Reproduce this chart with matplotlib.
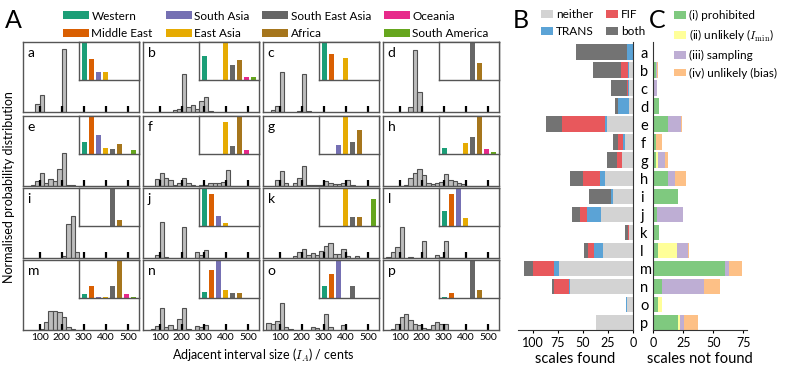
import numpy as np
import matplotlib
matplotlib.use('Agg')
import matplotlib.pyplot as plt
from matplotlib.patches import Patch

plt.rcParams['font.family'] = ['Lato', 'DejaVu Sans']
plt.rcParams['mathtext.fontset'] = 'cm'

# --- Datos del panel A: histogramas de intervalos (bins de 20 cents, de 40 a 460) ---
centros = np.arange(50, 460, 20)
hist_a = [0, 0, 0.11, 0.25, 0, 0, 0, 0, 0.90, 0, 0, 0, 0, 0, 0, 0, 0, 0, 0, 0, 0]
hist_b = [0, 0, 0, 0, 0, 0, 0.025, 0.045, 0.55, 0.065, 0.10, 0.045, 0.16, 0.21, 0.015, 0, 0, 0, 0, 0, 0]
hist_c = [0, 0.025, 0.08, 0.57, 0, 0, 0, 0.01, 0.54, 0.015, 0, 0, 0, 0, 0, 0, 0, 0, 0, 0, 0]
hist_d = [0, 0, 0, 0, 0, 0.07, 0.89, 0.29, 0, 0, 0, 0, 0, 0, 0, 0, 0, 0, 0, 0, 0]
hist_e = [0, 0.01, 0.07, 0.19, 0.05, 0.10, 0.07, 0.25, 0.47, 0.02, 0.015, 0, 0, 0, 0, 0, 0, 0, 0, 0, 0]
hist_f = [0, 0, 0.10, 0.19, 0.11, 0.08, 0.02, 0.05, 0.12, 0.05, 0.01, 0, 0.02, 0.02, 0.04, 0.05, 0.05, 0.06, 0.23, 0, 0]
hist_g = [0, 0, 0.09, 0.21, 0.05, 0, 0.05, 0.11, 0.28, 0.015, 0.015, 0.015, 0.015, 0.07, 0.04, 0.03, 0.03, 0.05, 0.09, 0.02, 0]
hist_h = [0, 0, 0, 0, 0.02, 0.11, 0.18, 0.24, 0.16, 0.04, 0.025, 0.04, 0.06, 0.17, 0.08, 0.07, 0.04, 0.025, 0, 0, 0]
hist_i = [0, 0, 0, 0, 0, 0, 0, 0, 0.03, 0.49, 0.60, 0.09, 0, 0, 0, 0, 0, 0, 0, 0, 0]
hist_j = [0, 0, 0.05, 0.52, 0.01, 0, 0, 0, 0.44, 0, 0, 0.09, 0.05, 0.11, 0, 0, 0, 0, 0, 0, 0]
hist_k = [0, 0, 0, 0, 0, 0, 0.03, 0.09, 0.13, 0.05, 0.065, 0.05, 0.10, 0.17, 0.21, 0.06, 0.06, 0.13, 0.035, 0, 0.03]
hist_l = [0.02, 0.08, 0.16, 0.45, 0, 0.01, 0, 0, 0.24, 0, 0, 0.04, 0.02, 0.24, 0, 0, 0, 0, 0, 0, 0]
hist_m = [0, 0, 0, 0.02, 0.12, 0.27, 0.275, 0.26, 0.19, 0.05, 0.02, 0, 0, 0, 0, 0, 0, 0, 0, 0, 0]
hist_n = [0, 0.02, 0.06, 0.31, 0.04, 0.07, 0.01, 0.16, 0.31, 0.01, 0, 0.06, 0.04, 0.07, 0, 0, 0, 0, 0, 0, 0]
hist_o = [0.10, 0.08, 0.13, 0.39, 0.05, 0.02, 0, 0, 0, 0, 0.04, 0.03, 0, 0.23, 0.05, 0, 0, 0.07, 0, 0, 0]
hist_p = [0, 0.02, 0.09, 0.19, 0.23, 0.15, 0.09, 0.07, 0.03, 0.02, 0.07, 0.11, 0.09, 0.08, 0, 0, 0, 0, 0, 0, 0]

# --- Recuadros: proporción relativa de escalas por región ---
regiones = ['Western', 'Middle East', 'South Asia', 'East Asia',
            'South East Asia', 'Africa', 'Oceania', 'South America']
colores_region = ['#1b9e77', '#d95f02', '#7570b3', '#e6ab02',
                  '#666666', '#a6761d', '#e7298a', '#66a61e']
reg_a = [1.0, 0.58, 0.22, 0.22, 0, 0, 0, 0]
reg_b = [0.65, 0, 0, 1.0, 0.40, 0.53, 0.07, 0.07]
reg_c = [1.0, 0.70, 0, 0.59, 0, 0, 0, 0]
reg_d = [0, 0, 0, 0, 1.0, 0.46, 0, 0]
reg_e = [0.31, 1.0, 0.51, 0.17, 0.14, 0.28, 0, 0.10]
reg_f = [0, 0, 0, 0.86, 0.22, 1.0, 0.10, 0]
reg_g = [0, 0, 0.25, 1.0, 0.32, 0.64, 0, 0]
reg_h = [0.16, 0, 0, 0.29, 0.46, 1.0, 0.13, 0.06]
reg_i = [0, 0, 0, 0, 1.0, 0.15, 0, 0]
reg_j = [1.0, 0.86, 0.28, 0.07, 0, 0, 0, 0]
reg_k = [0, 0, 0, 1.0, 0.25, 0.25, 0, 0.73]
reg_l = [0.39, 0.87, 1.0, 0.20, 0, 0, 0, 0]
reg_m = [0.11, 0.31, 0.02, 0.02, 0.32, 1.0, 0.10, 0.02]
reg_n = [0.16, 0.75, 1.0, 0.20, 0.14, 0.14, 0, 0]
reg_o = [0.32, 0.64, 1.0, 0, 0.32, 0, 0, 0]
reg_p = [0.03, 0.14, 0, 0, 1.0, 0.22, 0, 0]

letras = list('abcdefghijklmnop')
histogramas = [hist_a, hist_b, hist_c, hist_d, hist_e, hist_f, hist_g, hist_h,
               hist_i, hist_j, hist_k, hist_l, hist_m, hist_n, hist_o, hist_p]
recuadros = [reg_a, reg_b, reg_c, reg_d, reg_e, reg_f, reg_g, reg_h,
             reg_i, reg_j, reg_k, reg_l, reg_m, reg_n, reg_o, reg_p]

# --- Panel B: escalas encontradas ---
neither = [0, 4, 4, 4, 26, 8, 11, 28, 20, 32, 4, 30, 74, 63, 6, 37]
trans = [6, 1, 1, 11, 2, 2, 0, 5, 2, 14, 0, 9, 5, 1, 1, 0]
fif = [0, 7, 1, 0, 43, 5, 5, 17, 0, 7, 1, 6, 21, 15, 0, 0]
both = [51, 28, 16, 3, 16, 5, 10, 13, 22, 8, 3, 4, 9, 2, 0, 0]

# --- Panel C: escalas no encontradas ---
prohibited = [0, 2, 0, 5, 12, 2, 2, 12, 21, 3, 5, 4, 60, 7, 4, 21]
unlikely_min = [0, 0, 1, 0, 0, 0, 2, 0, 0, 0, 0, 16, 0, 0, 3, 1]
sampling = [0, 1, 2, 0, 11, 0, 6, 6, 0, 22, 0, 9, 3, 35, 0, 4]
unlikely_bias = [0, 1, 0, 0, 1, 5, 2, 9, 0, 0, 0, 1, 11, 14, 0, 11]

W, H = 789, 368


def caja(x0, y0, x1, y1):
    return [x0 / W, 1 - y1 / H, (x1 - x0) / W, (y1 - y0) / H]


fig = plt.figure(figsize=(W / 100, H / 100), dpi=100)

col_x = [23, 143, 263, 383]
fila_y = [42, 116, 188, 260]
gris_marco = '#555555'

for k, letra in enumerate(letras):
    fila, col = divmod(k, 4)
    ax = fig.add_axes(caja(col_x[col], fila_y[fila], col_x[col] + 116, fila_y[fila] + 70))
    valores = np.array(histogramas[k])
    mask = valores > 0
    ax.bar(centros[mask], valores[mask], width=20, facecolor='#bdbdbd',
           edgecolor='#505050', linewidth=0.8)
    ax.set_xlim(25, 550)
    ax.set_ylim(0, 1)
    ax.set_xticks([100, 200, 300, 400, 500])
    ax.set_yticks([])
    ax.tick_params(axis='x', direction='in', length=4, width=1.6, color='black',
                   labelsize=7.5, pad=2.5, labelbottom=(fila == 3))
    for s in ax.spines.values():
        s.set_color(gris_marco)
        s.set_linewidth(1.0)
    ax.text(0.04, 0.93, letra, transform=ax.transAxes, ha='left', va='top', fontsize=10)

    ins = ax.inset_axes([0.483, 0.46, 0.517, 0.54])
    ins.bar(np.arange(8), recuadros[k], width=0.82, color=colores_region, linewidth=0)
    ins.set_xlim(-0.8, 7.8)
    ins.set_ylim(0, 1.03)
    ins.set_xticks([])
    ins.set_yticks([])
    for s in ins.spines.values():
        s.set_color(gris_marco)
        s.set_linewidth(1.0)

# Leyenda de regiones
manejadores = [Patch(facecolor=c, edgecolor='none') for c in colores_region]
fig.legend(manejadores, regiones, ncol=4, loc='upper left',
           bbox_to_anchor=(63 / W, 1 - 10.5 / H), frameon=False, fontsize=8.5,
           handlelength=2.2, handleheight=0.65, handletextpad=0.2,
           columnspacing=1.1, labelspacing=0.55, borderpad=0, borderaxespad=0)

fig.text(9 / W, 1 - 187 / H, 'Normalised probability distribution', rotation=90,
         ha='center', va='center', fontsize=9)
fig.text(263 / W, 1 - 355 / H, r'Adjacent interval size ($I_A$) / cents',
         ha='center', va='center', fontsize=9)

# Panel B
filas = np.arange(16)
ax_b = fig.add_axes(caja(517.5, 42, 633.3, 330))
izq = np.zeros(16)
colores_b = ['#d3d3d3', '#5ba3d6', '#e8585c', '#737373']
etiquetas_b = ['neither', 'TRANS', 'FIF', 'both']
for serie, color in zip([neither, trans, fif, both], colores_b):
    ax_b.barh(filas, serie, left=izq, height=0.87, color=color, linewidth=0)
    izq = izq + np.array(serie)
ax_b.set_xlim(115, 0)
ax_b.set_ylim(15.42, -0.57)
ax_b.set_xticks([100, 75, 50, 25, 0])
ax_b.yaxis.tick_right()
ax_b.set_yticks(filas)
ax_b.set_yticklabels(letras)
ax_b.tick_params(axis='y', length=0, pad=5, labelsize=10.5)
ax_b.tick_params(axis='x', length=2, labelsize=9, pad=3)
ax_b.spines['top'].set_visible(False)
ax_b.spines['left'].set_visible(False)
for s in ['right', 'bottom']:
    ax_b.spines[s].set_color('#333333')
ax_b.set_xlabel('scales found', fontsize=10.5, labelpad=2)

manejadores_b = [Patch(facecolor=c, edgecolor='none') for c in colores_b]
fig.legend(manejadores_b, etiquetas_b, ncol=2, loc='upper left',
           bbox_to_anchor=(541 / W, 1 - 9 / H), frameon=False, fontsize=8.5,
           handlelength=1.0, handleheight=0.65, handletextpad=0.3,
           columnspacing=1.0, labelspacing=0.55, borderpad=0, borderaxespad=0)

# Panel C
ax_c = fig.add_axes(caja(653.3, 42, 746.5, 330))
izq = np.zeros(16)
colores_c = ['#7fc97f', '#ffff99', '#beaed4', '#fdc086']
etiquetas_c = ['(i) prohibited', r'(ii) unlikely ($I_{\min}$)', '(iii) sampling',
               '(iv) unlikely (bias)']
for serie, color in zip([prohibited, unlikely_min, sampling, unlikely_bias], colores_c):
    ax_c.barh(filas, serie, left=izq, height=0.87, color=color, linewidth=0)
    izq = izq + np.array(serie)
ax_c.set_xlim(0, 77.7)
ax_c.set_ylim(15.42, -0.57)
ax_c.set_xticks([0, 25, 50, 75])
ax_c.set_yticks([])
ax_c.tick_params(axis='x', length=2, labelsize=9, pad=3)
ax_c.spines['top'].set_visible(False)
ax_c.spines['right'].set_visible(False)
for s in ['left', 'bottom']:
    ax_c.spines[s].set_color('#333333')
ax_c.set_xlabel('scales not found', fontsize=10.5, labelpad=2)

manejadores_c = [Patch(facecolor=c, edgecolor='none') for c in colores_c]
fig.legend(manejadores_c, etiquetas_c, ncol=1, loc='upper left',
           bbox_to_anchor=(674 / W, 1 - 10 / H), frameon=False, fontsize=8.5,
           handlelength=1.0, handleheight=0.65, handletextpad=0.3,
           labelspacing=0.55, borderpad=0, borderaxespad=0)

# Letras de los paneles
fig.text(13 / W, 1 - 20 / H, 'A', ha='center', va='center', fontsize=18)
fig.text(521 / W, 1 - 20 / H, 'B', ha='center', va='center', fontsize=18)
fig.text(657 / W, 1 - 20 / H, 'C', ha='center', va='center', fontsize=18)

fig.savefig('out.png', dpi=100)
